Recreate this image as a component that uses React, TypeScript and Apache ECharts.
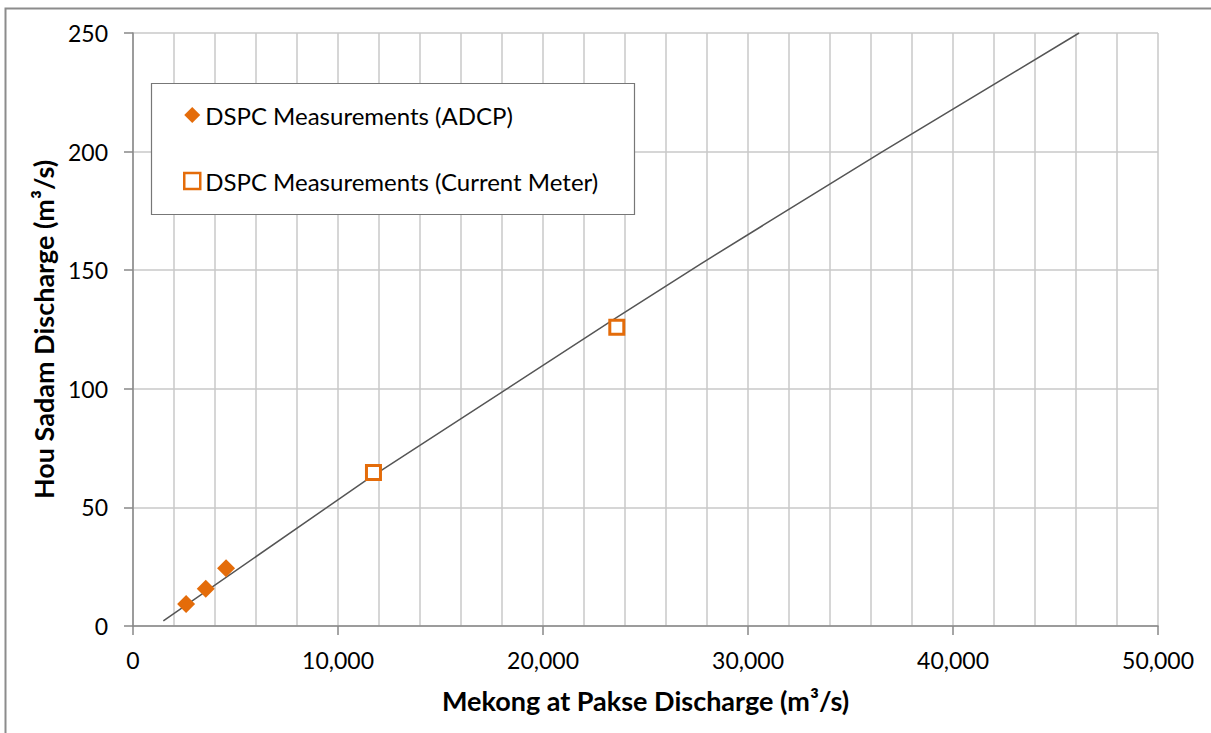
import React, { useEffect, useRef } from "react";
import * as echarts from "echarts";

const adcpX = [2590, 3550, 4540];
const adcpY = [9.3, 15.7, 24.3];
const meterX = [11730, 23600];
const meterY = [64.7, 125.9];
const trendX = [1480, 11400, 23600, 27660, 36520, 46150];
const trendY = [2.2, 61.6, 130.1, 152.5, 199.8, 250];
const seriesNames = ["DSPC Measurements (ADCP)", "DSPC Measurements (Current Meter)"];
const xTitle = "Mekong at Pakse Discharge (m³/s)";
const yTitle = "Hou Sadam Discharge (m³/s)";

const ORANGE = "#E46C0A";
const FONT = "Lato";

export default function App() {
  const ref = useRef<HTMLDivElement>(null);
  useEffect(() => {
    const chart = echarts.init(ref.current!, null, { renderer: "svg" });
    const zip = (xs: number[], ys: number[]) => xs.map((x, i) => [x, ys[i]]);
    chart.setOption({
      animation: false,
      backgroundColor: "#fff",
      textStyle: { fontFamily: FONT },
      grid: { left: 133, right: 53, top: 33, bottom: 107, containLabel: false },
      graphic: [
        {
          type: "rect",
          z: -10,
          shape: { x: 5.5, y: 8.5, width: 1400, height: 900 },
          style: { fill: "none", stroke: "#8c8c8c", lineWidth: 2 },
        },
        {
          type: "rect",
          z: 3,
          shape: { x: 151.5, y: 83.5, width: 483, height: 131 },
          style: { fill: "#fff", stroke: "#777", lineWidth: 1.2 },
        },
      ],
      legend: {
        z: 5,
        orient: "vertical",
        left: 183,
        top: 103,
        itemWidth: 16,
        itemHeight: 16,
        itemGap: 42,
        padding: 0,
        textStyle: { fontFamily: FONT, fontSize: 24, color: "#000" },
        data: [
          { name: seriesNames[0], icon: "diamond", itemStyle: { color: ORANGE, opacity: 1 } },
          {
            name: seriesNames[1],
            icon: "rect",
            itemStyle: { color: "#fff", borderColor: ORANGE, borderWidth: 2.5, opacity: 1 },
          },
        ],
      },
      xAxis: {
        type: "value",
        min: 0,
        max: 50000,
        interval: 10000,
        name: xTitle,
        nameLocation: "middle",
        nameGap: 61,
        nameTextStyle: { fontFamily: FONT, fontSize: 27, fontWeight: "bold", color: "#000" },
        axisLine: { show: true, lineStyle: { color: "#888", width: 1.5 } },
        axisTick: { show: true, inside: false, length: 9, lineStyle: { color: "#888", width: 1.5 } },
        axisLabel: {
          fontFamily: FONT,
          fontSize: 23,
          color: "#000",
          margin: 22,
          formatter: (v: number) => v.toLocaleString("en-US"),
        },
        splitLine: { show: true, lineStyle: { color: "#c8c8c8", width: 1.5 } },
        minorTick: { show: false, splitNumber: 5 },
        minorSplitLine: { show: true, lineStyle: { color: "#c8c8c8", width: 1.5 } },
      },
      yAxis: {
        type: "value",
        min: 0,
        max: 250,
        interval: 50,
        name: yTitle,
        nameLocation: "middle",
        nameGap: 72,
        nameTextStyle: { fontFamily: FONT, fontSize: 27, fontWeight: "bold", color: "#000" },
        axisLine: { show: true, lineStyle: { color: "#888", width: 1.5 } },
        axisTick: { show: true, inside: false, length: 9, lineStyle: { color: "#888", width: 1.5 } },
        axisLabel: { fontFamily: FONT, fontSize: 23, color: "#000", margin: 25 },
        splitLine: { show: true, lineStyle: { color: "#c8c8c8", width: 1.5 } },
      },
      series: [
        {
          name: "Trend",
          type: "line",
          data: zip(trendX, trendY),
          showSymbol: false,
          symbol: "none",
          lineStyle: { color: "#555", width: 1.5 },
          z: 1,
          silent: true,
        },
        {
          name: seriesNames[0],
          type: "scatter",
          data: zip(adcpX, adcpY),
          symbol: "diamond",
          symbolSize: 18,
          itemStyle: { color: ORANGE, opacity: 1 },
          z: 3,
        },
        {
          name: seriesNames[1],
          type: "scatter",
          data: zip(meterX, meterY),
          symbol: "rect",
          symbolSize: 14,
          itemStyle: { color: "#fff", borderColor: ORANGE, borderWidth: 3, opacity: 1 },
          z: 3,
        },
      ],
    });
    return () => chart.dispose();
  }, []);
  return (
    <div
      ref={ref}
      style={{ position: "absolute", left: 0, top: 0, width: 1211, height: 733 }}
    />
  );
}
